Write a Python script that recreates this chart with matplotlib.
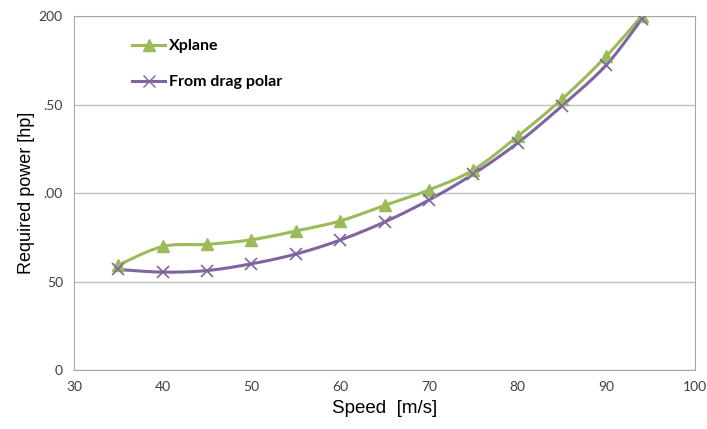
import numpy as np
import matplotlib.pyplot as plt

speed = [35, 40, 45, 50, 55, 60, 65, 70, 75, 80, 85, 90, 94]
xplane = [59.3, 69.8, 71.0, 73.6, 78.5, 84.2, 93.0, 101.7, 113.0, 132.0, 153.0, 177.3, 200.0]
drag_polar = [56.8, 55.3, 56.2, 60.0, 65.5, 73.4, 83.6, 96.0, 110.7, 128.2, 149.2, 172.3, 198.3]

yticks = [0, 50, 100, 150, 200]
ytick_labels = ["0", "50", ".00", ".50", "200"]
xticks = [30, 40, 50, 60, 70, 80, 90, 100]

green = "#9BBB59"
purple = "#8064A2"


def smooth(x, y, n=20):
    # catmull-rom style smoothing like excel's smoothed line
    x = np.asarray(x, float)
    y = np.asarray(y, float)
    px = np.concatenate([[x[0]], x, [x[-1]]])
    py = np.concatenate([[y[0]], y, [y[-1]]])
    xs, ys = [], []
    for i in range(1, len(px) - 2):
        p0, p1, p2, p3 = (np.array([px[j], py[j]]) for j in (i - 1, i, i + 1, i + 2))
        c1 = p1 + (p2 - p0) / 6
        c2 = p2 - (p3 - p1) / 6
        t = np.linspace(0, 1, n)[:, None]
        pts = (1 - t) ** 3 * p1 + 3 * (1 - t) ** 2 * t * c1 + 3 * (1 - t) * t ** 2 * c2 + t ** 3 * p2
        xs.extend(pts[:, 0])
        ys.extend(pts[:, 1])
    return xs, ys


plt.rcParams['font.family'] = ['Lato', 'DejaVu Sans']

fig = plt.figure(figsize=(7.07, 4.29), dpi=100)
ax = fig.add_axes([0.1047, 0.1375, 0.8783, 0.8252])

sx, sy = smooth(speed, xplane)
ax.plot(sx, sy, color=green, lw=2.2, zorder=3)
ax.plot(speed, xplane, ls="none", marker="^", ms=8, color=green, zorder=4)
sx, sy = smooth(speed, drag_polar)
ax.plot(sx, sy, color=purple, lw=2.2, zorder=3)
ax.plot(speed, drag_polar, ls="none", marker="x", ms=9, mew=1.2, color=purple, zorder=4)

# legend handles
ax.plot([], [], color=green, lw=2.2, marker="^", ms=8, label="Xplane")
ax.plot([], [], color=purple, lw=2.2, marker="x", ms=8, mew=1.0, label="From drag polar")
leg = ax.legend(loc="upper left", bbox_to_anchor=(0.07, 0.975), frameon=False,
                handlelength=2.1, handletextpad=0.25, labelspacing=1.35,
                prop={"weight": "bold", "size": 11.5})

ax.set_xlim(30, 100)
ax.set_ylim(0, 200)
ax.set_xticks(xticks)
ax.set_yticks(yticks)
ax.set_yticklabels(ytick_labels)
ax.tick_params(length=0, labelsize=10, colors="#404040", pad=8)
ax.grid(axis="y", color="#BFBFBF", lw=1)
ax.set_axisbelow(True)
for s in ax.spines.values():
    s.set_color("#A6A6A6")

ax.set_xlabel("Speed  [m/s]", fontsize=13.5, labelpad=5, family="Liberation Sans")
ax.set_ylabel("Required power [hp]", fontsize=13, labelpad=3, family="Liberation Sans")

fig.savefig("out.png", dpi=100)
